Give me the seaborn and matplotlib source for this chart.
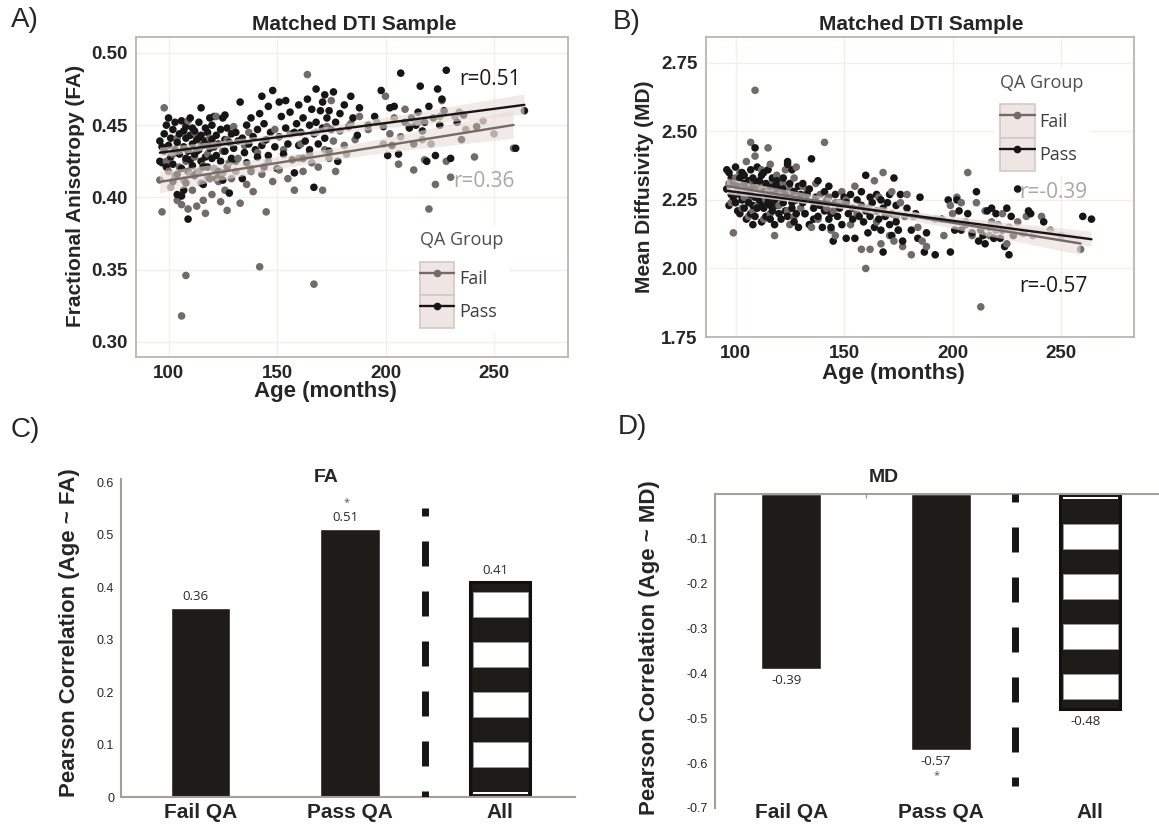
import numpy as np
import pandas as pd
import seaborn as sns
import matplotlib.pyplot as plt
from matplotlib.patches import Patch
from matplotlib.lines import Line2D
from matplotlib.legend_handler import HandlerTuple

# ==============================
# DATA
# ==============================

# QA pass subjects: age (months), FA, MD
pass_age = [96, 96, 97, 97, 98, 98, 99, 99,
            100, 100, 101, 101, 102, 102, 103, 103, 104, 104, 105, 105, 106, 106, 107, 107, 107,
            108, 108, 108, 109, 109, 109, 110, 110, 110, 106, 104, 102, 108,
            111, 111, 112, 112, 113, 113, 114, 114, 115, 115, 115, 116, 116, 117, 117, 117,
            118, 118, 119, 119, 119, 120, 120, 113, 111, 116, 118, 120, 112, 114,
            121, 121, 122, 122, 123, 123, 124, 124, 125, 125, 126, 126, 127, 127, 128, 128,
            129, 129, 130, 124, 126, 122,
            131, 131, 132, 133, 134, 134, 135, 136, 136, 137, 138, 138, 139, 140,
            141, 141, 142, 143, 143, 144, 144, 145, 146, 146, 147, 148, 149, 150,
            151, 151, 152, 153, 154, 154, 155, 156, 157, 158, 158, 159, 160, 160,
            161, 162, 162, 163, 164, 165, 165, 166, 167, 167, 168, 168, 169, 170,
            171, 171, 172, 172, 173, 174, 174, 175, 176, 177, 178, 179,
            181, 183, 184, 185, 187, 188,
            192, 195, 198, 199,
            201, 202, 203, 204, 206, 207, 209,
            211, 212, 213, 214, 215, 216, 217, 218, 219, 220,
            222, 223, 224, 225, 226, 227, 228, 230,
            233, 235, 236, 242, 260, 264]
pass_fa = [.439, .425, .435, .424, .444, .432, .421, .450,
           .455, .436, .428, .441, .447, .423, .433, .452, .402, .438, .430, .444, .420, .453, .435, .446, .405,
           .427, .441, .449, .385, .432, .418, .443, .426, .455, .401, .416, .411, .410,
           .437, .422, .446, .430, .440, .417, .452, .433, .462, .425, .443, .436, .409, .448, .428, .439,
           .421, .445, .434, .455, .413, .440, .427, .432, .448, .421, .437, .450, .415, .441,
           .435, .456, .429, .443, .418, .437, .447, .425, .455, .412, .440, .432, .421, .448, .403, .438,
           .444, .427, .434, .416, .457, .413,
           .445, .425, .439, .466, .413, .441, .431, .450, .424, .437, .455, .418, .442, .433,
           .447, .428, .458, .470, .436, .421, .451, .440, .463, .429, .445, .474, .435, .420,
           .466, .442, .456, .430, .467, .448, .437, .459, .426, .445, .417, .451, .436, .464,
           .445, .455, .427, .439, .468, .450, .433, .461, .407, .444, .475, .452, .437, .460,
           .448, .466, .471, .441, .455, .432, .460, .447, .473, .452, .425, .458,
           .464, .449, .470, .455, .443, .462,
           .450, .456, .474, .449,
           .429, .462, .436, .463, .430, .486, .452,
           .448, .455, .437, .450, .459, .477, .446, .452, .425, .463,
           .455, .429, .475, .450, .468, .460, .488, .427,
           .452, .440, .457, .449, .434, .460]
pass_md = [2.36, 2.29, 2.23, 2.35, 2.27, 2.33, 2.26, 2.31,
           2.37, 2.24, 2.30, 2.21, 2.33, 2.27, 2.35, 2.25, 2.22, 2.31, 2.18, 2.29, 2.24, 2.32, 2.20, 2.36, 2.27,
           2.16, 2.30, 2.23, 2.26, 2.44, 2.19, 2.31, 2.37, 2.22, 2.28, 2.34, 2.20, 2.33,
           2.25, 2.29, 2.17, 2.34, 2.22, 2.28, 2.31, 2.19, 2.26, 2.36, 2.24, 2.30, 2.18, 2.27, 2.21, 2.33,
           2.25, 2.16, 2.29, 2.23, 2.32, 2.20, 2.27, 2.35, 2.32, 2.23, 2.30, 2.26, 2.24, 2.28,
           2.18, 2.30, 2.24, 2.33, 2.21, 2.27, 2.38, 2.19, 2.26, 2.31, 2.22, 2.36, 2.17, 2.28, 2.25, 2.20,
           2.30, 2.15, 2.27, 2.39, 2.24, 2.29,
           2.24, 2.31, 2.20, 2.27, 2.16, 2.29, 2.40, 2.22, 2.18, 2.26, 2.32, 2.19, 2.23, 2.15,
           2.21, 2.28, 2.25, 2.18, 2.30, 2.20, 2.15, 2.10, 2.24, 2.27, 2.19, 2.22, 2.16, 2.26,
           2.24, 2.11, 2.20, 2.27, 2.18, 2.22, 2.11, 2.25, 2.19, 2.23, 2.28, 2.17, 2.34, 2.21,
           2.13, 2.26, 2.19, 2.24, 2.15, 2.27, 2.21, 2.18, 2.25, 2.14, 2.22, 2.06, 2.19, 2.24,
           2.16, 2.27, 2.12, 2.20, 2.33, 2.17, 2.23, 2.14, 2.27, 2.10, 2.19, 2.22,
           2.14, 2.20, 2.11, 2.26, 2.06, 2.13,
           2.05, 2.18, 2.25, 2.06,
           2.14, 2.25, 2.21, 2.14, 2.16, 2.20, 2.13,
           2.28, 2.10, 2.14, 2.12, 2.09, 2.21, 2.15, 2.22, 2.11, 2.20,
           2.11, 2.14, 2.08, 2.22, 2.05, 2.19, 2.12, 2.29,
           2.13, 2.21, 2.20, 2.17, 2.19, 2.18]

# QA fail subjects: age (months), FA, MD
fail_age = [96, 97, 98, 99, 100,
            101, 102, 103, 104, 104, 105, 106, 106, 107, 107, 108, 108, 109, 109, 110,
            111, 112, 113, 114, 115, 115, 116, 117, 118, 118, 119, 120, 112, 116,
            121, 122, 123, 124, 125, 125, 126, 127, 127, 128, 129, 130,
            131, 132, 133, 135, 136, 137, 138, 139,
            141, 142, 143, 144, 145, 146, 148, 149,
            151, 153, 155, 156, 158, 160,
            161, 162, 164, 165, 166, 167, 168, 169,
            171, 172, 173, 174, 175, 176, 177, 179,
            181, 182, 184, 186, 188,
            192, 196, 199,
            200, 202, 204, 206, 207, 209,
            211, 213, 215, 217, 218, 220,
            221, 223, 225, 226, 228, 230,
            232, 234, 237, 241, 245, 250, 259]
fail_fa = [.412, .390, .462, .425, .418,
           .407, .430, .415, .398, .441, .421, .395, .318, .434, .412, .346, .425, .392, .453, .416,
           .405, .428, .394, .418, .436, .410, .422, .389, .430, .414, .441, .402, .445, .398,
           .420, .456, .411, .397, .432, .417, .405, .440, .391, .424, .413, .449,
           .418, .427, .396, .436, .409, .445, .420, .404,
           .431, .352, .416, .439, .390, .425, .411, .447,
           .419, .433, .413, .444, .405, .427,
           .437, .418, .485, .430, .424, .340, .445, .421,
           .405, .433, .449, .427, .467, .439, .418, .446,
           .436, .430, .451, .440, .456,
           .447, .452, .437,
           .470, .444, .455, .423, .442, .461,
           .449, .419, .452, .440, .426, .392,
           .437, .409, .456, .467, .425, .414,
           .456, .459, .447, .428, .453, .444, .434]
fail_md = [2.29, 2.31, 2.24, 2.13, 2.33,
           2.28, 2.35, 2.22, 2.30, 2.26, 2.39, 2.19, 2.25, 2.46, 2.27, 2.32, 2.21, 2.41, 2.65, 2.23,
           2.30, 2.36, 2.18, 2.25, 2.44, 2.28, 2.20, 2.32, 2.12, 2.26, 2.34, 2.23, 2.29, 2.38,
           2.27, 2.31, 2.36, 2.21, 2.29, 2.16, 2.25, 2.33, 2.19, 2.37, 2.26, 2.22,
           2.30, 2.20, 2.28, 2.15, 2.24, 2.31, 2.18, 2.27,
           2.46, 2.22, 2.26, 2.14, 2.21, 2.12, 2.24, 2.28,
           2.25, 2.16, 2.30, 2.20, 2.07, 2.00,
           2.22, 2.07, 2.32, 2.17, 2.26, 2.09, 2.35, 2.20,
           2.12, 2.28, 2.10, 2.19, 2.14, 2.24, 2.08, 2.27,
           2.05, 2.19, 2.15, 2.10, 2.08,
           2.18, 2.12, 2.23,
           2.20, 2.26, 2.24, 2.17, 2.35, 2.12,
           2.24, 1.86, 2.21, 2.12, 2.17, 2.14,
           2.16, 2.20, 2.09, 2.15, 2.13, 2.17,
           2.13, 2.19, 2.12, 2.19, 2.14, 2.12, 2.07]

age_ticks = [100, 150, 200, 250]
fa_ticks = [0.30, 0.35, 0.40, 0.45, 0.50]
md_ticks = [1.75, 2.00, 2.25, 2.50, 2.75]

# Pearson correlations (age ~ measure)
bar_groups = ['Fail QA', 'Pass QA', 'All']
fa_r = [0.36, 0.51, 0.41]
md_r = [-0.39, -0.57, -0.48]
fa_sig = ['', '*', '']
md_sig = ['', '*', '']
fa_bar_ticks = [0, 0.1, 0.2, 0.3, 0.4, 0.5, 0.6]
md_bar_ticks = [-0.7, -0.6, -0.5, -0.4, -0.3, -0.2, -0.1]

# ==============================
# STYLE
# ==============================
sns.set_style('white')
plt.rcParams['font.family'] = ['Liberation Sans', 'DejaVu Sans']
LIGHT = 'Open Sans'

W, H = 1159, 824
pal = {'Fail': '#726b67', 'Pass': '#161616'}
ribbon = '#eadcd7'
frame = '#bdb4af'
grid = '#f3efe9'
spine = '#a69e99'
bar_col = '#1e1c18'

df = pd.concat([
    pd.DataFrame({'age': fail_age, 'fa': fail_fa, 'md': fail_md, 'qa': 'Fail'}),
    pd.DataFrame({'age': pass_age, 'fa': pass_fa, 'md': pass_md, 'qa': 'Pass'}),
]).sort_values('age', kind='stable').reset_index(drop=True)

fig = plt.figure(figsize=(W / 100, H / 100), dpi=100)


def box(l, t, r, b):
    return [l / W, 1 - b / H, (r - l) / W, (b - t) / H]


def ftext(x, y, s, **kw):
    fig.text(x / W, 1 - y / H, s, ha='center', va='center', **kw)


axA = fig.add_axes(box(136, 37, 568, 357))
axB = fig.add_axes(box(706, 37, 1134, 337))
axC = fig.add_axes(box(121, 479, 575, 797))
axD = fig.add_axes(box(715, 494, 1159, 808))


# ==============================
# A / B : scatter + regression
# ==============================
def scatter_panel(ax, col, xlim, ylim, yticks):
    sns.scatterplot(data=df, x='age', y=col, hue='qa', palette=pal, s=30,
                    linewidth=0, ax=ax, legend=False, zorder=2)
    for g in ['Fail', 'Pass']:
        k = len(ax.collections)
        sns.regplot(data=df[df.qa == g], x='age', y=col, scatter=False, ax=ax,
                    color=pal[g], seed=3, line_kws={'lw': 1.7, 'zorder': 4})
        for c in ax.collections[k:]:
            c.set_facecolor(ribbon)
            c.set_edgecolor('none')
            c.set_alpha(0.6)
            c.set_zorder(3)
    ax.set_xlim(xlim)
    ax.set_ylim(ylim)
    ax.set_xticks(age_ticks, [str(t) for t in age_ticks], fontweight='bold', fontsize=13.5)
    ax.set_yticks(yticks, [f'{t:.2f}' for t in yticks], fontweight='bold', fontsize=13.5)
    ax.tick_params(length=4, width=1.8, color='black', pad=2)
    ax.grid(True, color=grid, lw=1)
    ax.set_axisbelow(True)
    for s in ax.spines.values():
        s.set_color(frame)
        s.set_linewidth(1.3)
    ax.set_xlabel('')
    ax.set_ylabel('')


def add_legend(ax, anchor):
    hs = [(Patch(facecolor='#efe6e3', edgecolor='#d3c9c5', lw=1.2),
           Line2D([], [], color=pal[g], lw=1.7, marker='o', ms=4.5)) for g in ['Fail', 'Pass']]
    leg = ax.legend(hs, ['Fail', 'Pass'], title='QA Group',
                    handler_map={tuple: HandlerTuple(ndivide=1)},
                    loc='upper left', bbox_to_anchor=anchor, frameon=True,
                    facecolor='white', edgecolor='none', framealpha=1, fancybox=False,
                    prop={'family': LIGHT, 'size': 13},
                    title_fontproperties={'family': LIGHT, 'size': 13},
                    handlelength=1.9, handleheight=2.45, labelspacing=0,
                    handletextpad=0.25, borderpad=0.3, borderaxespad=0, alignment='left')
    leg.get_title().set_color('#4d4d4d')
    leg._legend_box.sep = 9
    for t in leg.get_texts():
        t.set_color('#3d3d3d')
    leg.set_zorder(6)


scatter_panel(axA, 'fa', (85.0, 284.1), (0.2896, 0.511), fa_ticks)
add_legend(axA, (0.645, 0.41))
axA.text(248.2, 0.4813, f'r={fa_r[1]:.2f}', ha='center', va='center',
         family=LIGHT, fontsize=15, color='#1a1a1a')
axA.text(245.4, 0.4107, f'r={fa_r[0]:.2f}', ha='center', va='center',
         family=LIGHT, fontsize=15, color='#a8a8a8')

scatter_panel(axB, 'md', (86.4, 283.6), (1.7536, 2.8445), md_ticks)
add_legend(axB, (0.675, 0.895))
axB.text(246.3, 2.277, f'r={md_r[0]:.2f}', ha='center', va='center',
         family=LIGHT, fontsize=15, color='#a8a8a8')
axB.text(246.3, 1.935, f'r={md_r[1]:.2f}', ha='center', va='center',
         family=LIGHT, fontsize=15, color='#1a1a1a')


# ==============================
# C / D : correlation bars
# ==============================
def bar_panel(ax, vals, sig, xlim, ylim, yticks, dash, below):
    bdf = pd.DataFrame({'group': bar_groups, 'r': vals})
    sns.barplot(data=bdf, x='group', y='r', color=bar_col, saturation=1, width=0.4,
                errorbar=None, ax=ax, zorder=2)
    ax.set_xlim(xlim)
    ax.set_ylim(ylim)
    all_bar = ax.patches[2]
    all_bar.set_edgecolor('#111111')
    all_bar.set_linewidth(2.2)

    # white stripes inside the "All" bar
    pos = ax.get_position()
    ppu = pos.height * H / (ylim[1] - ylim[0])
    ppc = pos.width * W / (xlim[1] - xlim[0])
    v = vals[2]
    sgn = np.sign(v)
    ext = abs(v) * ppu
    sw = all_bar.get_width() - 2 * 2.5 / ppc
    segs = [(3, 2)] + [(30 + 50 * k, 25) for k in range(10) if 30 + 50 * k + 25 <= ext - 10]
    for start, h in segs:
        ax.bar(2, sgn * h / ppu, bottom=sgn * start / ppu, width=sw, color='white',
               edgecolor='#9a9a9a' if h > 5 else 'none', lw=0.6, zorder=3)

    # dashed separator
    ax.plot([1.5, 1.5], dash, color='#161616', lw=5, linestyle=(2.45, (3.6, 3.6)), zorder=3)

    # value labels
    for i, (val, s) in enumerate(zip(vals, sig)):
        d = -1 if below else 1
        ax.annotate(f'{val:.2f}', (i, val), xytext=(-3.5, d * 8.5), textcoords='offset points',
                    ha='center', va='center', family=LIGHT, fontsize=9.5, color='#2a2a2a')
        if s:
            ax.annotate(s, (i, val), xytext=(-3, d * 19), textcoords='offset points',
                        ha='center', va='center', family=LIGHT, fontsize=8, color='#555555')

    ax.set_yticks(yticks, [f'{t:g}' for t in yticks], fontsize=9)
    ax.tick_params(axis='y', length=3, width=1, color=spine, pad=2)
    ax.set_xlabel('')
    ax.set_ylabel('')
    for s in ax.spines.values():
        s.set_color(spine)
        s.set_linewidth(1.5)

    # category names along the bottom edge of the figure
    for i, g in enumerate(bar_groups):
        ax.annotate(g, (i, 2), xycoords=('data', 'figure pixels'), ha='center',
                    va='bottom', fontsize=15, fontweight='bold', annotation_clip=False)


bar_panel(axC, fa_r, fa_sig, (-0.531, 2.427), (0, 0.606), fa_bar_ticks, [0.55, 0], False)
axC.spines[['top', 'right']].set_visible(False)
axC.set_xticks([-0.5, 0.5, 1.5, 2.5], ['', '', '', ''])
axC.tick_params(axis='x', length=4, width=1, color=spine)

bar_panel(axD, md_r, md_sig, (-0.51, 2.46), (-0.7, 0), md_bar_ticks, [0, -0.65], True)
axD.spines[['bottom', 'right']].set_visible(False)
axD.xaxis.tick_top()
axD.set_xticks([0.5, 1.5], ['', ''])
axD.tick_params(axis='x', direction='in', length=3, width=1, color=spine)

# ==============================
# TEXT
# ==============================
ftext(25, 20, 'A)', fontsize=20)
ftext(627, 22, 'B)', fontsize=20)
ftext(25, 430, 'C)', fontsize=20)
ftext(632, 427, 'D)', fontsize=20)

ftext(354, 25, 'Matched DTI Sample', fontsize=15, fontweight='bold')
ftext(921, 25, 'Matched DTI Sample', fontsize=15, fontweight='bold')
ftext(325, 392, 'Age (months)', fontsize=16, fontweight='bold')
ftext(893, 373, 'Age (months)', fontsize=16, fontweight='bold')
ftext(76, 196, 'Fractional Anisotropy (FA)', fontsize=15, fontweight='bold', rotation=90)
ftext(645, 187, 'Mean Diffusivity (MD)', fontsize=15, fontweight='bold', rotation=90)

ftext(326, 478, 'FA', fontsize=14, fontweight='bold')
ftext(884, 478, 'MD', fontsize=14, fontweight='bold')
ftext(70, 633, 'Pearson Correlation (Age ~ FA)', fontsize=16, fontweight='bold', rotation=90)
ftext(650, 648, 'Pearson Correlation (Age ~ MD)', fontsize=16, fontweight='bold', rotation=90)

fig.savefig('out.png', dpi=100)
